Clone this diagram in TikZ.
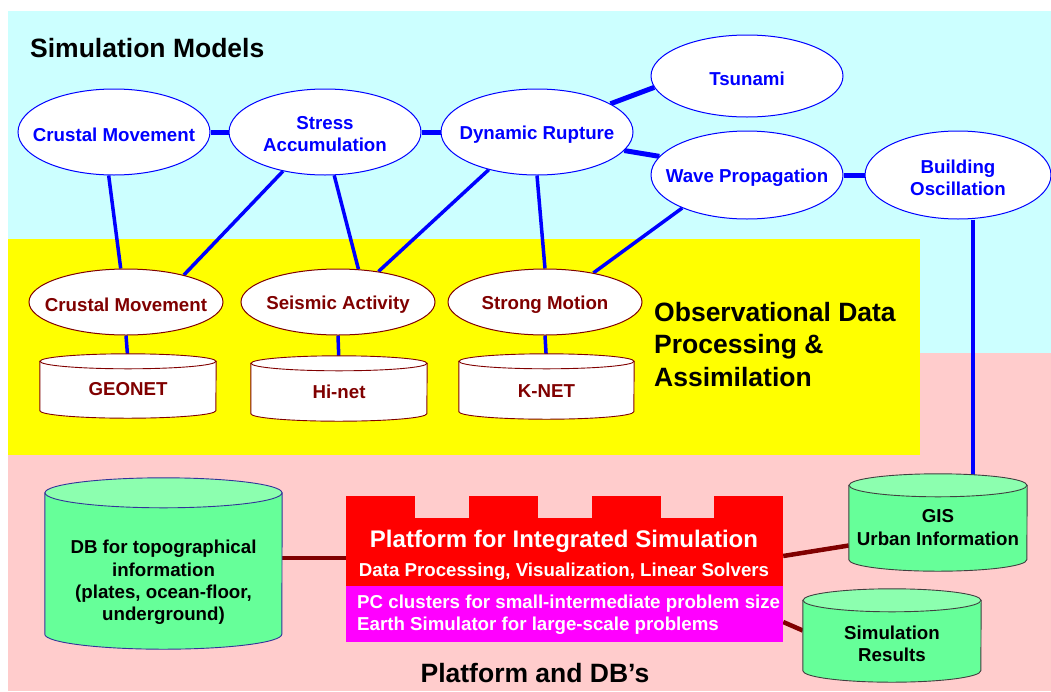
\documentclass[tikz,border=0pt]{standalone}
\usepackage{fontspec}
\setmainfont{Liberation Sans}
\usetikzlibrary{shapes.geometric}
\pgfdeclarelayer{back}
\pgfdeclarelayer{mid}
\pgfsetlayers{back,mid,main}
\definecolor{cyanbg}{RGB}{204,255,255}
\definecolor{yellowbg}{RGB}{255,255,0}
\definecolor{pinkbg}{RGB}{255,204,204}
\definecolor{mblue}{RGB}{0,0,255}
\definecolor{mmaroon}{RGB}{128,0,0}
\definecolor{cylgreen}{RGB}{102,255,153}
\definecolor{capgreen}{RGB}{140,255,175}
\definecolor{platred}{RGB}{255,0,0}
\definecolor{platmag}{RGB}{255,0,255}
\definecolor{dbedge}{RGB}{51,51,153}
\definecolor{grayedge}{RGB}{64,64,64}
\newcommand\fs[2]{\fontsize{#1}{#2}\selectfont\bfseries}
\newcommand\mycyl[6]{%
  \filldraw[draw=#6, fill=#4, line width=0.9pt] (#1.north west) -- (#1.south west)
    arc[start angle=180, end angle=360, x radius=#2, y radius=#3] -- (#1.north east) -- cycle;
  \filldraw[draw=#6, fill=#5, line width=0.9pt] (#1.north) ellipse[x radius=#2, y radius=#3];
}
\tikzset{
  topell/.style={ellipse, draw=mblue, line width=1pt, fill=white, inner sep=0pt, minimum width=192pt, minimum height=86pt},
  obsell/.style={ellipse, draw=mmaroon, line width=1pt, fill=white, inner sep=0pt, minimum width=194pt, minimum height=66pt},
  toplbl/.style={text=mblue, font=\fs{18.7}{22}, align=center, inner sep=0pt, yshift=-2.5pt},
  obslbl/.style={text=mmaroon, font=\fs{18.7}{22}, align=center, inner sep=0pt},
  cyllbl/.style={text=black, font=\fs{18.7}{22.3}, align=center, inner sep=0pt},
  cylbox/.style={rectangle, inner sep=0pt},
  bar/.style={draw=mblue, line width=5pt},
  link/.style={draw=mblue, line width=3.5pt},
  mlink/.style={draw=mmaroon, line width=4.5pt},
  bigtitle/.style={font=\fs{26.5}{32.5}, inner sep=0pt, text=black},
  whitetxt/.style={text=white, inner sep=0pt},
}
\begin{document}
\begin{tikzpicture}[x=1pt, y=-1pt]
\useasboundingbox (0,0) rectangle (1051,691);
% backgrounds
\begin{pgfonlayer}{back}
  \fill[white] (0,0) rectangle (1051,691);
  \fill[cyanbg] (8,11) rectangle (1051,353);
  \fill[pinkbg] (8,353) rectangle (1051,691);
  \fill[yellowbg] (8,239) rectangle (920,455);
\end{pgfonlayer}

% titles
\node[bigtitle, anchor=base west] (simtitle) at (30,57) {Simulation Models};
\node[bigtitle, anchor=north west, align=left] (obstitle) at (654,302) {Observational Data\\Processing \&\\Assimilation};
\node[bigtitle, anchor=base] (pdbtitle) at (535,682) {Platform and DB’s};

% simulation models
\node[topell, label={[toplbl]center:Crustal Movement}] (tc1) at (114,132) {};
\node[topell, label={[toplbl]center:Stress\\Accumulation}] (tc2) at (325,132) {};
\node[topell, label={[toplbl]center:Dynamic Rupture}] (tc3) at (537,132) {};
\node[topell, minimum height=82pt, label={[toplbl]center:Tsunami}] (ts) at (747,76) {};
\node[topell, minimum height=88pt, label={[toplbl]center:Wave Propagation}] (tw) at (747,175) {};
\node[topell, minimum width=186pt, minimum height=88pt, label={[toplbl]center:Building\\Oscillation}] (bo) at (958,175) {};

% observational
\node[obsell, label={[obslbl, yshift=-2.5pt]center:Crustal Movement}] (oc1) at (126,302) {};
\node[obsell, label={[obslbl, yshift=-2.5pt]center:Seismic Activity}] (os2) at (338,302) {};
\node[obsell, label={[obslbl, yshift=-2.5pt]center:Strong Motion}] (os3) at (545,302) {};

% cylinders (node boxes between cap centres)
\node[cylbox, minimum width=176pt, minimum height=49pt, label={[obslbl, yshift=-3pt]center:GEONET}] (geo) at (128,386) {};
\node[cylbox, minimum width=176pt, minimum height=50pt, label={[obslbl, yshift=-3.5pt]center:Hi-net}] (hinet) at (339,388.5) {};
\node[cylbox, minimum width=175pt, minimum height=50pt, label={[obslbl, yshift=-4.5pt]center:K-NET}] (knet) at (546.5,386.5) {};
\node[cylbox, minimum width=237pt, minimum height=141pt, label={[cyllbl, yshift=-19pt]center:DB for topographical\\information\\(plates, ocean-floor,\\underground)}] (db) at (163.5,563.5) {};
\node[cylbox, minimum width=178pt, minimum height=74pt, label={[cyllbl, yshift=-5pt]center:GIS\\Urban Information}] (gis) at (938,522.5) {};
\node[cylbox, minimum width=178pt, minimum height=70pt, label={[cyllbl, yshift=-8pt]center:Simulation\\Results}] (sim) at (892,635.5) {};

% platform
\node[rectangle, fill=platred, inner sep=0pt, minimum width=437pt, minimum height=68pt] (plat) at (564.5,552) {};
\fill[platred] (346,496) rectangle (415,519);
\fill[platred] (469,496) rectangle (538,519);
\fill[platred] (592,496) rectangle (661,519);
\fill[platred] (714,496) rectangle (783,519);
\node[rectangle, fill=platmag, inner sep=0pt, minimum width=437pt, minimum height=56pt] (pc) at (564.5,614) {};
\node[whitetxt, anchor=base, font=\fs{24}{28}] (pt1) at (564,547) {Platform for Integrated Simulation};
\node[whitetxt, anchor=base, font=\fs{18.7}{22}] (pt2) at (564,576) {Data Processing, Visualization, Linear Solvers};
\node[whitetxt, anchor=base west, font=\fs{18.7}{22}] (pc1) at (357,608) {PC clusters for small-intermediate problem size};
\node[whitetxt, anchor=base west, font=\fs{18.7}{22}] (pc2) at (357,630.5) {Earth Simulator for large-scale problems};

\coordinate (pw) at ([yshift=-6pt]plat.west);

\begin{pgfonlayer}{mid}
  % bars between models
  \draw[bar] (tc1.east) -- (tc2.west);
  \draw[bar] (tc2.east) -- (tc3.west);
  \draw[bar] (tc3.21) -- (ts.187);
  \draw[bar] (tc3.348) -- (tw.168);
  \draw[bar] (tw.east) -- (bo.west);
  % links to observation
  \draw[link] (tc1.263) -- (oc1.99);
  \draw[link] (tc2.223) -- (oc1.25);
  \draw[link] (tc2.282) -- (os2.58);
  \draw[link] (tc3.218) -- (os2.37);
  \draw[link] (tc3.270) -- (os3.90);
  \draw[link] (tw.207) -- (os3.31);
  \draw[link] (oc1.south) -- (geo.north);
  \draw[link] (os2.south) -- (hinet.north);
  \draw[link] (os3.south) -- (knet.north);
  \draw[link] ([xshift=15pt]bo.south) -- ([xshift=35pt]gis.north);
  % platform links
  \draw[mlink] (pw -| db.east) -- (pw);
  \draw[mlink] ([yshift=-4pt]plat.east) -- ([yshift=-23pt]gis.west);
  \draw[mlink] ([yshift=-8pt]pc.east) -- ([yshift=5pt]sim.west);
  % cylinder shapes
  \mycyl{geo}{88pt}{7.5pt}{white}{white}{mmaroon}
  \mycyl{hinet}{88pt}{7.5pt}{white}{white}{mmaroon}
  \mycyl{knet}{87.5pt}{7.5pt}{white}{white}{mmaroon}
  \mycyl{db}{118.5pt}{15pt}{cylgreen}{capgreen}{dbedge}
  \mycyl{gis}{89pt}{11.5pt}{cylgreen}{capgreen}{grayedge}
  \mycyl{sim}{89pt}{11.5pt}{cylgreen}{capgreen}{grayedge}
\end{pgfonlayer}
\end{tikzpicture}
\end{document}
